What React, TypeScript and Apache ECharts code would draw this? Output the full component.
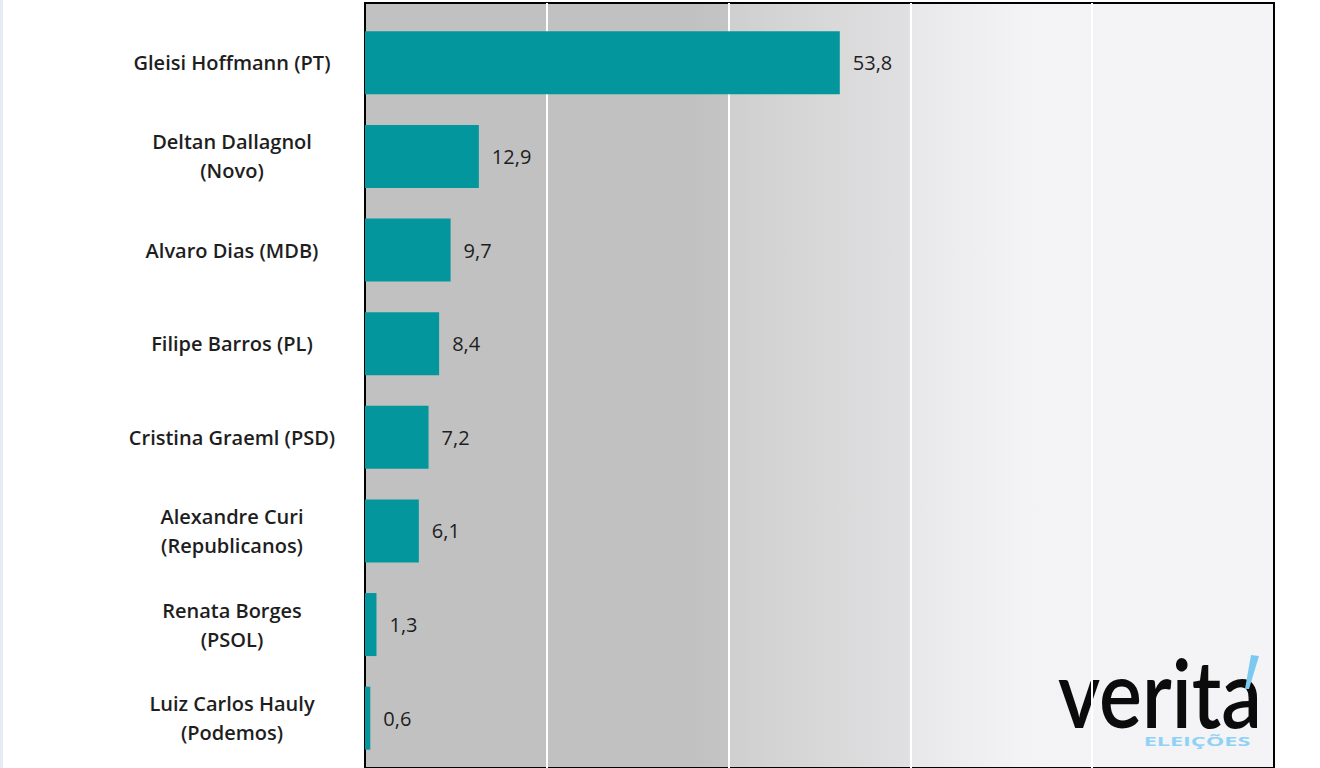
import React, { useEffect, useRef } from "react";
import * as echarts from "echarts";

const candidates = [
  "Gleisi Hoffmann (PT)",
  "Deltan Dallagnol\n(Novo)",
  "Alvaro Dias (MDB)",
  "Filipe Barros (PL)",
  "Cristina Graeml (PSD)",
  "Alexandre Curi\n(Republicanos)",
  "Renata Borges\n(PSOL)",
  "Luiz Carlos Hauly\n(Podemos)",
];
const votes = [53.8, 12.9, 9.7, 8.4, 7.2, 6.1, 1.3, 0.6];
const axisMax = 103;
const axisStep = 20.6;

const FONT = "'Open Sans', 'Noto Sans', sans-serif";

export default function App() {
  const ref = useRef<HTMLDivElement>(null);
  useEffect(() => {
    if (!ref.current) return;
    const chart = echarts.init(ref.current, undefined, { renderer: "svg" });
    const bg = new echarts.graphic.LinearGradient(0, 0, 1, 0, [
      { offset: 0, color: "#c1c1c1" },
      { offset: 0.36, color: "#c1c1c1" },
      { offset: 0.399, color: "#c4c4c4" },
      { offset: 0.401, color: "#cfcfcf" },
      { offset: 0.598, color: "#e0e0e2" },
      { offset: 0.602, color: "#e8e8ea" },
      { offset: 0.72, color: "#f3f3f5" },
      { offset: 1, color: "#f4f4f6" },
    ]);
    chart.setOption({
      animation: false,
      backgroundColor: "#ffffff",
      grid: [
        {
          left: 365,
          right: 46,
          top: 3,
          bottom: -20,
          show: true,
          backgroundColor: bg,
          borderColor: "#000000",
          borderWidth: 2,
        },
        { left: 365, right: 46, top: 16, bottom: 3 },
      ],
      xAxis: [
        {
          gridIndex: 0,
          type: "value",
          min: 0,
          max: axisMax,
          interval: axisStep,
          axisLabel: { show: false },
          axisTick: { show: false },
          axisLine: { show: false },
          splitLine: {
            show: true,
            showMinLine: false,
            showMaxLine: false,
            lineStyle: { color: "#ffffff", width: 2 },
          },
        },
        {
          gridIndex: 1,
          type: "value",
          min: 0,
          max: axisMax,
          show: false,
          splitLine: { show: false },
        },
      ],
      yAxis: [
        {
          gridIndex: 0,
          type: "value",
          show: false,
          splitLine: { show: false },
        },
        {
          gridIndex: 1,
          type: "category",
          inverse: true,
          data: candidates,
          axisLine: { show: false },
          axisTick: { show: false },
          axisLabel: {
            align: "center",
            margin: 133,
            fontFamily: FONT,
            fontWeight: 600,
            fontSize: 20,
            lineHeight: 29,
            color: "#1e1e1e",
          },
        },
      ],
      series: [
        {
          type: "bar",
          xAxisIndex: 1,
          yAxisIndex: 1,
          data: votes,
          barWidth: 63,
          itemStyle: { color: "#03979d" },
          label: {
            show: true,
            position: "right",
            distance: 13,
            fontFamily: FONT,
            fontWeight: 500,
            fontSize: 20,
            color: "#1e1e1e",
            formatter: (p: any) => String(p.value).replace(".", ","),
          },
        },
      ],
      graphic: [
        {
          type: "rect",
          shape: { x: 0, y: 0, width: 3, height: 768 },
          style: { fill: "#e6ecf5" },
          silent: true,
        },
        {
          type: "text",
          x: 1058,
          y: 692,
          scaleX: 0.86,
          style: {
            text: "verita",
            fill: "#0b0b0b",
            font: "600 94px Lato, 'Open Sans', sans-serif",
            verticalAlign: "middle",
            align: "left",
          },
          silent: true,
        },
        {
          type: "polygon",
          shape: {
            points: [
              [1251, 655],
              [1259, 656],
              [1249, 689],
              [1245, 689],
            ],
          },
          style: { fill: "#7cc8f0" },
          silent: true,
        },
        {
          type: "text",
          x: 1197,
          y: 741,
          scaleX: 1.95,
          style: {
            text: "ELEIÇÕES",
            fill: "#8fd2f6",
            font: "bold 12px 'Open Sans', sans-serif",
            verticalAlign: "middle",
            align: "center",
          },
          silent: true,
        },
      ],
    });
    return () => chart.dispose();
  }, []);
  return (
    <div
      ref={ref}
      style={{ position: "fixed", left: 0, top: 0, width: 1320, height: 768 }}
    />
  );
}
